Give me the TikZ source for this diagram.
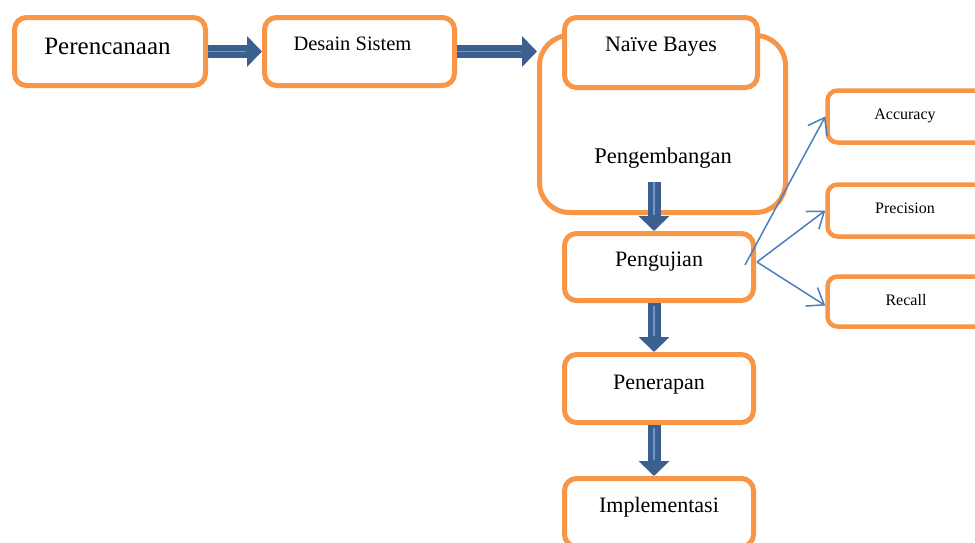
\documentclass[tikz,border=0pt]{standalone}
\usepackage{fontspec}
\setmainfont{Liberation Serif}
\usetikzlibrary{arrows.meta,calc}
\definecolor{ob}{HTML}{F79646}
\definecolor{ab}{HTML}{3B5F8F}
\definecolor{al}{HTML}{6F96CE}
\definecolor{tb}{HTML}{4A7EBE}
\begin{document}
\begin{tikzpicture}[x=1pt,y=-1pt,
  box/.style={draw=ob, line width=5pt, rounded corners=12pt, fill=white, inner sep=0pt},
  sbox/.style={draw=ob, line width=4.5pt, rounded corners=10pt, fill=white, inner sep=0pt, minimum width=180pt, minimum height=52pt},
  lbl/.style={anchor=base, inner sep=0pt, font=\fontsize{22}{26}\selectfont},
  slbl/.style={anchor=base, inner sep=0pt, font=\fontsize{16}{19}\selectfont},
  fat/.style={draw=ab, line width=13pt, -{Triangle[length=15pt,width=30pt]}},
  shine/.style={draw=al, line width=1.8pt},
  thin/.style={draw=tb, line width=1.5pt, -{Straight Barb[length=15pt,width=22pt]}}]
\useasboundingbox (0,0) rectangle (975,542);
\fill[white] (0,0) rectangle (975,542);
% boxes
\node[box, minimum width=191pt, minimum height=68pt] (p1) at (110,51.5) {};
\node[box, minimum width=190pt, minimum height=68pt] (p2) at (359.5,51.5) {};
\node[box, rounded corners=30pt, minimum width=246pt, minimum height=177pt] (outer) at (662.5,124) {};
\node[box, minimum width=193pt, minimum height=70pt] (nb) at (661,52.5) {};
\node[box, minimum width=189pt, minimum height=67pt] (pj) at (659,267) {};
\node[box, minimum width=189pt, minimum height=68pt] (pn) at (659,388.5) {};
\node[box, minimum width=189pt, minimum height=68pt] (im) at (659,512.5) {};
\node[sbox] (acc) at (917.5,116.5) {};
\node[sbox] (prec) at (917.5,210.5) {};
\node[sbox, minimum height=50pt] (rec) at (917.5,301.5) {};
% texts
\node[lbl, font=\fontsize{25}{29}\selectfont] (t1) at (107.5,54.3) {Perencanaan};
\node[lbl, font=\fontsize{20.5}{24}\selectfont] (t2) at (352.5,50.7) {Desain Sistem};
\node[lbl] (t3) at (661,51) {Naïve Bayes};
\node[lbl, font=\fontsize{22.5}{26}\selectfont] (t4) at (663,163) {Pengembangan};
\node[lbl] (t5) at (659,266.7) {Pengujian};
\node[lbl] (t6) at (659,389) {Penerapan};
\node[lbl] (t7) at (659,512.7) {Implementasi};
\node[slbl] (t8) at (905,119) {Accuracy};
\node[slbl] (t9) at (905,213.3) {Precision};
\node[slbl] (t10) at (906,305.7) {Recall};
% fat arrows
\coordinate (a1s) at (p1.east);
\coordinate (a1e) at (p2.west);
\coordinate (a2s) at (p2.east);
\coordinate (a2e) at (p2.east -| outer.west);
\coordinate (a3s) at (654,182);
\coordinate (a3e) at (a3s |- pj.north);
\coordinate (a4s) at (a3s |- pj.south);
\coordinate (a4e) at (a3s |- pn.north);
\coordinate (a5s) at (a3s |- pn.south);
\coordinate (a5e) at (a3s |- im.north);
\draw[fat] (a1s) -- (a1e);
\draw[shine] (a1s) -- ($(a1e)+(-16,0)$);
\draw[fat] (a2s) -- (a2e);
\draw[shine] (a2s) -- ($(a2e)+(-16,0)$);
\draw[fat] (a3s) -- (a3e);
\draw[shine] (a3s) -- ($(a3e)+(0,-16)$);
\draw[fat] (a4s) -- (a4e);
\draw[shine] ($(a4s)+(0,3)$) -- ($(a4e)+(0,-16)$);
\draw[fat] (a5s) -- (a5e);
\draw[shine] ($(a5s)+(0,3)$) -- ($(a5e)+(0,-16)$);
% thin arrows
\coordinate (tail) at (745,265);
\coordinate (fork) at (757,262);
\draw[thin] (tail) -- (acc.west);
\draw[thin] (fork) -- (prec.west);
\draw[thin] (fork) -- ($(rec.west)+(0,4)$);
\end{tikzpicture}
\end{document}
